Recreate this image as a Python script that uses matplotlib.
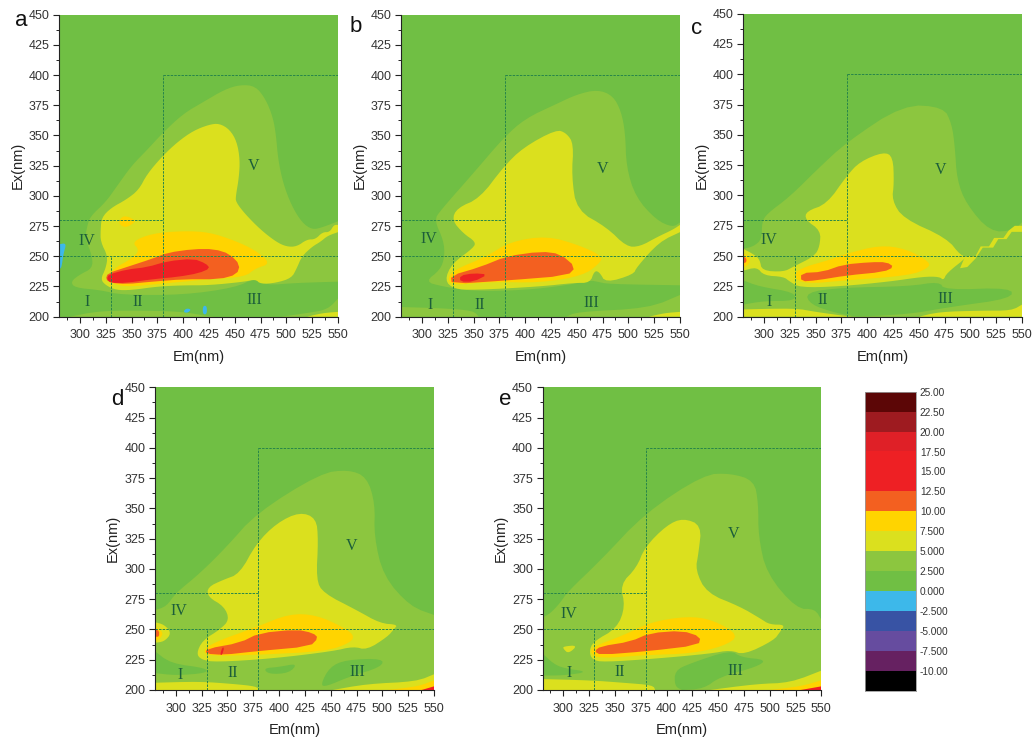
import matplotlib
matplotlib.use('Agg')
import numpy as np
import matplotlib.pyplot as plt
from matplotlib.colors import ListedColormap, BoundaryNorm

plt.rcParams['font.family'] = ['Liberation Sans', 'DejaVu Sans']

W, H = 1034, 742

# contour band colours
C_BASE = '#70bf44'
C_LIGHT = '#8cc63f'
C_YELLOW = '#dbe01e'
C_AMBER = '#ffd400'
C_ORANGE = '#f36020'
C_RED = '#ee2024'
C_BLUE = '#3db8ea'

# contour outlines, (Em, Ex) in nm
a_light = [(550, 229), (510, 228), (480, 226), (470, 232), (450, 224), (400, 218), (340, 218), (320, 222), (295, 224), (291, 229), (300, 235), (312, 240), (312, 250), (305, 265), (307, 275), (310, 283), (325, 295), (335, 307), (350, 325), (365, 338), (380, 352), (400, 368), (420, 378), (440, 388), (455, 392), (470, 391), (480, 380), (487, 365), (490, 350), (492, 330), (497, 310), (505, 292), (515, 278), (525, 272), (535, 274), (550, 279)]
a_yellow = [(321, 282), (330, 290), (345, 297), (357, 305), (365, 318), (380, 333), (395, 345), (410, 354), (425, 359), (435, 360), (445, 355), (452, 345), (455, 330), (454, 315), (451, 300), (451, 295), (460, 285), (475, 272), (490, 262), (500, 258), (510, 258), (520, 264), (528, 264), (535, 270), (542, 270), (546, 276), (550, 276), (550, 270), (540, 267), (533, 262), (525, 258), (515, 250), (510, 240), (505, 232), (490, 228), (475, 227), (470, 231), (460, 229), (425, 226), (400, 226), (375, 225), (350, 222), (335, 222), (325, 226), (320, 231), (325, 240), (327, 250), (320, 262), (320, 272)]
a_amber = [(350, 262), (370, 269), (400, 271), (425, 270), (450, 263), (470, 255), (485, 244), (470, 240), (460, 233), (425, 231), (400, 229), (375, 227), (350, 225), (335, 226), (326, 231), (333, 240), (350, 248), (358, 255)]
a_amber_spot = [(337, 278), (341, 283), (346, 283), (351, 281), (354, 279), (348, 275), (342, 274)]
a_orange = [(327, 236), (345, 241), (370, 248), (385, 253), (410, 256), (430, 256), (445, 252), (455, 243), (452, 235), (435, 231), (400, 231), (370, 229), (345, 227), (330, 228), (325, 231)]
a_red = [(328, 235), (345, 239), (365, 241), (385, 246), (410, 248), (422, 244), (426, 240), (415, 236), (395, 233), (370, 231), (345, 228), (330, 228), (326, 231)]
a_strip = [(290, 200), (320, 205), (370, 205), (400, 204), (420, 201), (430, 200)]
a_strip2 = [(495, 200), (520, 203), (540, 206), (550, 215), (550, 200)]
a_strip3 = [(520, 200), (535, 203), (550, 204), (550, 200)]
a_blue = [(280, 240), (280, 260), (287, 261), (284, 252), (282, 240)]
a_blue2 = [(400, 204), (403, 207), (408, 206), (404, 203)]
a_blue3 = [(419, 202), (419, 209), (423, 209), (423, 202)]

b_light = [(550, 226), (480, 227), (470, 229), (463, 230), (440, 226), (400, 222), (350, 221), (320, 225), (303, 229), (318, 239), (322, 250), (321, 263), (312, 280), (318, 288), (350, 319), (379, 348), (400, 364), (430, 376), (450, 384), (470, 388), (485, 383), (493, 370), (497, 352), (498, 324), (507, 299), (527, 280), (543, 274), (550, 278)]
b_yellow = [(430, 355), (440, 352), (447, 343), (445, 316), (450, 288), (479, 274), (498, 258), (511, 258), (528, 266), (543, 272), (550, 276), (550, 270), (530, 262), (508, 241), (505, 235), (478, 228), (472, 237), (467, 238), (463, 228), (447, 228), (415, 225), (350, 222), (331, 223), (322, 230), (329, 244), (350, 257), (352, 262), (340, 269), (329, 280), (334, 290), (356, 298), (379, 324), (398, 340)]
b_amber = [(385, 262), (421, 267), (453, 259), (475, 250), (472, 244), (456, 234), (415, 228), (366, 229), (331, 226), (325, 230), (329, 238), (363, 250)]
b_orange = [(415, 254), (434, 252), (449, 241), (441, 234), (382, 230), (329, 227), (328, 234), (356, 241), (382, 250)]
b_red = [(337, 234), (350, 236), (364, 235), (350, 229), (337, 229)]
b_strip = [(280, 200), (280, 208), (320, 207), (350, 205), (355, 200)]
b_strip2 = [(440, 200), (450, 204), (520, 207), (550, 218), (550, 200)]
b_strip3 = [(520, 200), (535, 203), (550, 204), (550, 200)]

c_light = [(280, 200), (550, 200), (550, 278), (542, 271), (519, 270), (496, 293), (487, 313), (485, 340), (482, 359), (474, 373), (435, 375), (380, 344), (351, 321), (325, 299), (303, 285), (298, 278), (298, 264), (290, 258), (280, 256)]
c_dark = [(340, 220), (375, 224), (440, 225), (470, 229), (475, 222), (540, 224), (540, 215), (480, 208), (440, 202), (390, 200), (370, 203), (345, 210)]
c_dark2 = [(280, 230), (295, 225), (330, 220), (330, 213), (300, 213), (280, 210)]
c_yellow = [(416, 336), (425, 332), (426, 310), (424, 296), (435, 281), (477, 265), (491, 250), (498, 250), (477, 236), (474, 230), (470, 233), (454, 233), (422, 229), (374, 225), (335, 224), (325, 229), (319, 233), (300, 234), (293, 241), (280, 238), (280, 256), (291, 251), (296, 247), (298, 238), (319, 237), (328, 241), (349, 250), (354, 258), (355, 271), (340, 280), (341, 287), (361, 293), (380, 316), (393, 328)]
c_yellow2 = [(495, 250), (505, 250), (510, 258), (518, 258), (523, 265), (532, 265), (537, 271), (543, 275), (550, 275), (550, 270), (540, 270), (535, 264), (527, 264), (522, 257), (512, 257), (505, 248), (497, 241), (490, 240)]
c_amber = [(380, 252), (412, 259), (438, 256), (461, 245), (459, 240), (441, 234), (380, 230), (340, 227), (328, 233), (335, 240), (364, 247)]
c_amber2 = [(280, 241), (280, 252), (285, 250), (287, 246), (284, 242)]
c_orange = [(336, 236), (357, 237), (377, 243), (403, 245), (419, 245), (426, 241), (416, 237), (380, 234), (351, 230), (336, 229)]
c_orange2 = [(280, 244), (280, 250), (283, 248), (283, 245)]
c_strip = [(280, 200), (280, 206), (330, 207), (350, 204), (375, 201), (385, 200)]
c_strip2 = [(450, 200), (470, 204), (510, 205), (540, 205), (550, 210), (550, 200)]

d_light = [(280, 200), (550, 200), (550, 262), (527, 269), (501, 294), (492, 327), (493, 354), (485, 376), (467, 382), (440, 379), (378, 346), (349, 318), (323, 296), (300, 280), (291, 269), (280, 266)]
d_dark = [(440, 204), (449, 219), (465, 225), (501, 226), (499, 219), (468, 211), (446, 203)]
d_dark2 = [(280, 232), (295, 222), (330, 218), (330, 214), (300, 212), (280, 214)]
d_dark3 = [(385, 218), (400, 219), (418, 222), (410, 214), (390, 213)]
d_yellow = [(420, 347), (436, 342), (438, 324), (436, 291), (443, 280), (475, 266), (498, 255), (515, 254), (511, 250), (505, 244), (485, 233), (472, 236), (452, 232), (394, 226), (339, 223), (325, 225), (320, 230), (326, 241), (343, 250), (352, 258), (347, 269), (331, 277), (331, 285), (346, 291), (362, 296), (378, 321), (398, 338)]
d_yellow2 = [(280, 256), (289, 254), (296, 247), (289, 240), (280, 239)]
d_amber = [(410, 263), (436, 262), (462, 252), (473, 245), (469, 239), (446, 232), (378, 229), (333, 228), (326, 232), (336, 239), (378, 252)]
d_amber2 = [(280, 252), (285, 250), (288, 246), (283, 241), (280, 241)]
d_orange = [(417, 250), (433, 247), (438, 243), (430, 236), (378, 232), (346, 229), (329, 230), (330, 234), (362, 239), (381, 247)]
d_orange2 = [(280, 244), (280, 250), (284, 249), (284, 244)]
d_red = [(343, 229), (345, 229), (347, 235), (345, 235)]
d_strip = [(280, 200), (280, 206), (323, 207), (356, 205), (378, 203), (381, 200)]
d_strip2 = [(452, 200), (485, 205), (533, 207), (550, 213), (550, 200)]
d_strip3 = [(505, 200), (535, 203), (550, 208), (550, 200)]
d_strip4 = [(538, 200), (550, 203), (550, 200)]

e_light = [(280, 200), (550, 200), (550, 258), (544, 267), (526, 267), (497, 296), (489, 327), (489, 354), (485, 373), (462, 379), (436, 378), (379, 346), (336, 307), (304, 281), (297, 272), (287, 263), (280, 260)]
e_dark = [(408, 203), (408, 216), (423, 222), (462, 233), (472, 227), (497, 225), (487, 219), (452, 211), (436, 201), (415, 200)]
e_dark2 = [(280, 230), (290, 222), (300, 218), (325, 215), (300, 212), (280, 212)]
e_yellow = [(416, 342), (434, 336), (431, 313), (428, 299), (439, 280), (471, 269), (491, 259), (500, 254), (515, 254), (510, 248), (504, 241), (475, 229), (462, 233), (442, 230), (391, 226), (339, 223), (328, 225), (325, 232), (329, 240), (352, 251), (360, 269), (355, 287), (371, 301), (379, 318), (400, 336)]
e_yellow2 = [(300, 236), (314, 237), (305, 230), (300, 234)]
e_amber = [(384, 256), (420, 261), (445, 258), (471, 245), (455, 236), (423, 230), (381, 229), (336, 226), (326, 230), (329, 236), (358, 245)]
e_orange = [(415, 249), (433, 244), (431, 237), (381, 232), (336, 229), (330, 232), (336, 236), (365, 240), (384, 247)]
e_strip = [(280, 200), (280, 209), (326, 208), (358, 206), (387, 204), (389, 200)]
e_strip2 = [(442, 200), (487, 205), (520, 206), (550, 216), (550, 200)]
e_strip3 = [(500, 200), (530, 203), (550, 208), (550, 200)]
e_strip4 = [(530, 200), (550, 203), (550, 200)]

# roman region labels, (text, Em, Ex)
a_labels = [('IV', 306.5, 263), ('I', 306.5, 212), ('II', 356, 212), ('III', 469, 214), ('V', 468, 325)]
b_labels = [('IV', 307, 264), ('I', 308, 210), ('II', 356, 210), ('III', 464, 211), ('V', 475, 322)]
c_labels = [('IV', 305, 263), ('I', 305, 212), ('II', 356.5, 214), ('III', 476, 215), ('V', 471.5, 321)]
d_labels = [('IV', 303, 265), ('I', 304, 212), ('II', 355.5, 214), ('III', 476, 215), ('V', 470.5, 319)]
e_labels = [('IV', 305, 263), ('I', 306, 214), ('II', 355, 215), ('III', 467, 216), ('V', 465, 329)]

# dashed region borders, (x0, x1, y0, y1)
region_lines = [(380, 550, 400, 400), (380, 380, 200, 400), (280, 380, 280, 280), (280, 550, 250, 250), (330, 330, 200, 250)]

x_ticks = list(range(300, 551, 25))
y_ticks = list(range(200, 451, 25))

# colour scale
bar_levels = [-12.5, -10, -7.5, -5, -2.5, 0, 2.5, 5, 7.5, 10, 12.5, 15, 17.5, 20, 22.5, 25]
bar_colors = ['#000000', '#662161', '#664c9f', '#3853a4', C_BLUE, C_BASE, C_LIGHT, C_YELLOW, C_AMBER, C_ORANGE, C_RED, C_RED, '#df2027', '#9e1b20', '#5c0606']
bar_labels = ['-10.00', '-7.500', '-5.000', '-2.500', '0.000', '2.500', '5.000', '7.500', '10.00', '12.50', '15.00', '17.50', '20.00', '22.50', '25.00']

panels = [
    ('a', (59.3, 14.7, 338, 316.7), (21, 20), a_labels,
     [(a_light, C_LIGHT), (a_strip, C_LIGHT), (a_strip2, C_LIGHT), (a_strip3, C_YELLOW), (a_yellow, C_YELLOW),
      (a_amber, C_AMBER), (a_amber_spot, C_AMBER), (a_orange, C_ORANGE), (a_red, C_RED),
      (a_blue, C_BLUE), (a_blue2, C_BLUE), (a_blue3, C_BLUE)]),
    ('b', (401.3, 14.7, 680, 316.7), (356, 27), b_labels,
     [(b_light, C_LIGHT), (b_strip, C_LIGHT), (b_strip2, C_LIGHT), (b_strip3, C_YELLOW), (b_yellow, C_YELLOW),
      (b_amber, C_AMBER), (b_orange, C_ORANGE), (b_red, C_RED)]),
    ('c', (743.3, 13.7, 1022, 316.7), (697, 29), c_labels,
     [(c_light, C_LIGHT), (c_dark, C_BASE), (c_dark2, C_BASE), (c_strip, C_YELLOW), (c_strip2, C_YELLOW),
      (c_yellow, C_YELLOW), (c_yellow2, C_YELLOW), (c_amber, C_AMBER), (c_amber2, C_AMBER),
      (c_orange, C_ORANGE), (c_orange2, C_ORANGE)]),
    ('d', (155, 387.3, 434, 690), (117, 400), d_labels,
     [(d_light, C_LIGHT), (d_dark, C_BASE), (d_dark2, C_BASE), (d_dark3, C_BASE), (d_strip, C_YELLOW), (d_strip2, C_YELLOW),
      (d_strip3, C_AMBER), (d_strip4, C_RED), (d_yellow, C_YELLOW), (d_yellow2, C_YELLOW), (d_amber, C_AMBER),
      (d_amber2, C_AMBER), (d_orange, C_ORANGE), (d_orange2, C_ORANGE), (d_red, C_RED)]),
    ('e', (542.7, 387.3, 821.3, 690), (505, 400), e_labels,
     [(e_light, C_LIGHT), (e_dark, C_BASE), (e_dark2, C_BASE), (e_strip, C_YELLOW), (e_strip2, C_YELLOW),
      (e_strip3, C_AMBER), (e_strip4, C_RED), (e_yellow, C_YELLOW), (e_yellow2, C_YELLOW), (e_amber, C_AMBER),
      (e_orange, C_ORANGE)]),
]

fig = plt.figure(figsize=(W / 100, H / 100), dpi=100)


def add_axes_px(left, top, right, bottom):
    return fig.add_axes([left / W, 1 - bottom / H, (right - left) / W, (bottom - top) / H])


def round_corners(outline, rounds=2):
    # corner cutting, points on the plot border stay where they are
    pts = [tuple(p) for p in outline]
    for _ in range(rounds):
        new_pts = []
        for i, p in enumerate(pts):
            prev_p = pts[i - 1]
            next_p = pts[(i + 1) % len(pts)]
            if p[0] in (280, 550) or p[1] == 200:
                new_pts.append(p)
            else:
                new_pts.append((0.75 * p[0] + 0.25 * prev_p[0], 0.75 * p[1] + 0.25 * prev_p[1]))
                new_pts.append((0.75 * p[0] + 0.25 * next_p[0], 0.75 * p[1] + 0.25 * next_p[1]))
        pts = new_pts
    return np.array(pts)


for letter, box, letter_pos, labels, layers in panels:
    ax = add_axes_px(*box)
    ax.set_facecolor(C_BASE)
    for outline, color in layers:
        # thin blobs lose too much with two rounds, the stair in c stays sharp
        rounds = 1 if color in (C_ORANGE, C_RED) else 2
        if outline is c_yellow2:
            rounds = 0
        xy = round_corners(outline, rounds)
        ax.fill(xy[:, 0], xy[:, 1], color=color, lw=0)
    for x0, x1, y0, y1 in region_lines:
        ax.plot([x0, x1], [y0, y1], color='#27864a', lw=0.7, ls=(0, (2.5, 1.2)))
    for text, x, y in labels:
        ax.text(x, y, text, family='Liberation Serif', fontsize=11.5, color='#1c5e3a', ha='center', va='center')
    ax.set_xlim(280, 550)
    ax.set_ylim(200, 450)
    ax.set_xticks(x_ticks)
    ax.set_yticks(y_ticks)
    ax.set_xticks(np.arange(287.5, 550, 25), minor=True)
    ax.set_yticks(np.arange(212.5, 450, 25), minor=True)
    ax.tick_params(which='major', length=4, width=0.8, labelsize=9, labelcolor='#333333', color='#222222')
    ax.tick_params(axis='x', which='major', pad=5)
    ax.tick_params(axis='y', which='major', pad=3)
    ax.tick_params(which='minor', length=2, width=0.7, color='#222222')
    ax.spines['top'].set_visible(False)
    ax.spines['right'].set_visible(False)
    ax.spines['left'].set_color('#222222')
    ax.spines['bottom'].set_color('#222222')
    ax.set_xlabel('Em(nm)', fontsize=10.5, color='#222222')
    ax.set_ylabel('Ex(nm)', fontsize=10.5, color='#222222')
    ax.xaxis.set_label_coords(0.5, -33 / (box[3] - box[1]))
    ax.yaxis.set_label_coords(-35 / (box[2] - box[0]), 0.5)
    fig.text(letter_pos[0] / W, 1 - letter_pos[1] / H, letter, fontsize=16, color='#111111', ha='center', va='center')

# colour scale, labels sit on the band borders
cax = add_axes_px(865, 391.7, 915.7, 690.7)
cmap = ListedColormap(bar_colors)
norm = BoundaryNorm(bar_levels, cmap.N)
cax.pcolormesh([0, 1], bar_levels, np.array(bar_levels[:-1]).reshape(-1, 1) + 1.25, cmap=cmap, norm=norm)
cax.set_xticks([])
cax.yaxis.tick_right()
cax.set_yticks(bar_levels[1:])
cax.set_yticklabels(bar_labels)
cax.tick_params(axis='y', length=0, labelsize=7.3, labelcolor='#333333', pad=3)
for spine in cax.spines.values():
    spine.set_color('#999999')
    spine.set_linewidth(0.6)

plt.savefig('out.png', dpi=100)
